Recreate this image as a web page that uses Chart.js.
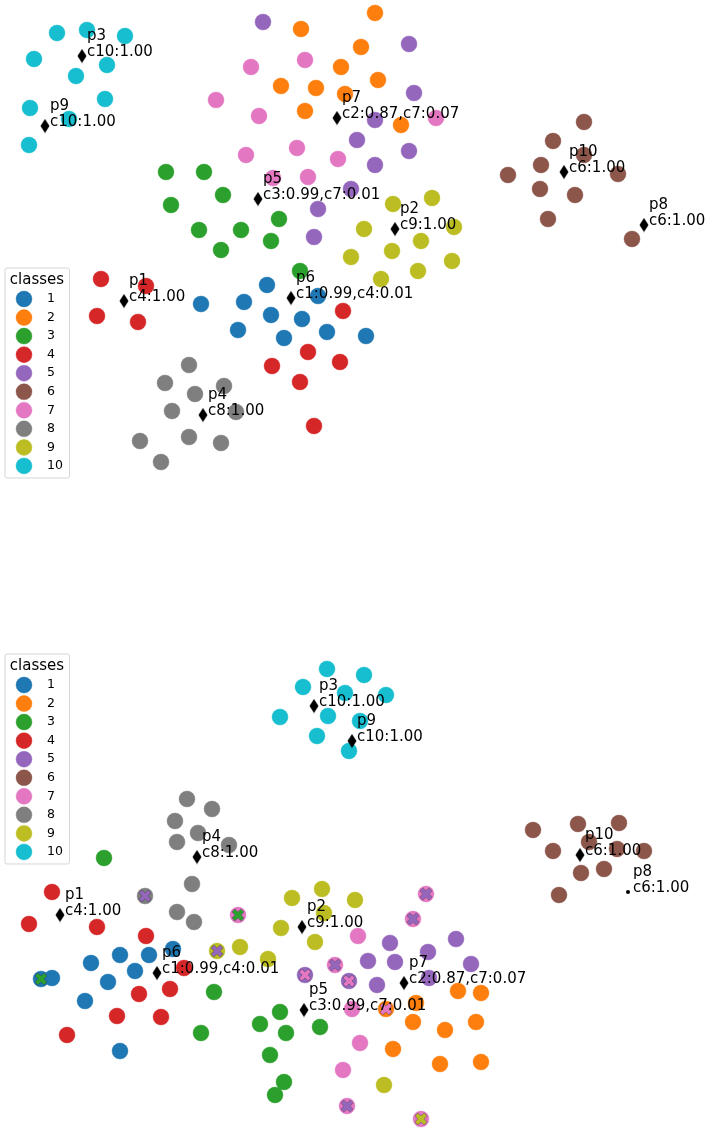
<!DOCTYPE html>
<html>
<head>
<meta charset="utf-8">
<title>classes</title>
<script src="https://cdn.jsdelivr.net/npm/chart.js@4"></script>
<style>
  html, body { margin: 0; padding: 0; background: #fff; }
  #wrap { width: 709px; height: 1131px; position: relative; overflow: hidden; }
  .panel { position: absolute; left: 0; width: 709px; }
  #topPanel { top: 0; height: 566px; }
  #bottomPanel { top: 566px; height: 565px; }
</style>
</head>
<body>
<div id="wrap">
  <div class="panel" id="topPanel"><canvas id="topChart" width="709" height="566"></canvas></div>
  <div class="panel" id="bottomPanel"><canvas id="bottomChart" width="709" height="565"></canvas></div>
</div>
<script>
const classNames = ['1', '2', '3', '4', '5', '6', '7', '8', '9', '10'];
const classColors = ['#1f77b4', '#ff7f0e', '#2ca02c', '#d62728', '#9467bd', '#8c564b', '#e377c2', '#7f7f7f', '#bcbd22', '#17becf'];
const protoNames = ['p1', 'p2', 'p3', 'p4', 'p5', 'p6', 'p7', 'p8', 'p9', 'p10'];

// top panel, one list per class
const top1 = [[201,304],[244,302],[267,285],[271,315],[238,330],[302,319],[318,296],[327,332],[366,336],[284,338]];
const top2 = [[301,29],[375,13],[361,47],[341,67],[378,80],[281,86],[316,88],[345,94],[305,111],[401,125]];
const top3 = [[166,172],[204,172],[223,195],[171,205],[199,230],[241,230],[279,219],[221,250],[271,241],[300,271]];
const top4 = [[101,279],[146,286],[97,316],[138,322],[343,311],[308,352],[272,366],[340,362],[300,382],[314,426]];
const top5 = [[263,22],[409,44],[414,93],[375,120],[357,140],[409,151],[375,165],[351,189],[318,209],[314,237]];
const top6 = [[584,122],[553,141],[584,155],[541,165],[508,175],[618,174],[540,189],[575,195],[548,219],[632,239]];
const top7 = [[305,60],[251,67],[216,100],[259,116],[246,155],[297,148],[338,159],[273,178],[308,177],[436,118]];
const top8 = [[189,365],[165,383],[195,394],[224,386],[172,411],[236,412],[140,441],[189,437],[221,443],[161,462]];
const top9 = [[393,204],[432,198],[364,229],[392,251],[421,241],[454,227],[351,257],[418,271],[452,261],[381,279]];
const top10 = [[87,30],[57,33],[125,36],[34,59],[107,65],[76,76],[105,99],[30,108],[69,119],[29,145]];
const topClasses = [top1, top2, top3, top4, top5, top6, top7, top8, top9, top10];

// prototypes of the top panel, in order p1..p10
const topProtoPoints = [[124,301],[395,229],[82,56],[203,415],[258,199],[291,298],[337,118],[644,225],[45,126],[564,172]];
const protoLabels = ['c4:1.00', 'c9:1.00', 'c10:1.00', 'c8:1.00', 'c3:0.99,c7:0.01', 'c1:0.99,c4:0.01', 'c2:0.87,c7:0.07', 'c6:1.00', 'c10:1.00', 'c6:1.00'];

// bottom panel
const bottom1 = [[52,978],[41,979],[91,963],[120,955],[149,955],[173,949],[135,971],[108,982],[85,1001],[120,1051]];
const bottom2 = [[416,1003],[413,1022],[445,1030],[393,1049],[440,1064],[458,991],[481,993],[476,1022],[481,1062],[386,1009]];
const bottom3 = [[104,858],[214,992],[201,1033],[320,1027],[280,1012],[260,1024],[286,1033],[270,1055],[284,1082],[275,1095]];
const bottom4 = [[52,892],[29,924],[97,927],[146,936],[184,968],[170,989],[139,994],[117,1016],[161,1017],[67,1035]];
const bottom5 = [[390,943],[368,961],[395,962],[428,952],[429,978],[377,985],[456,939],[471,964],[305,975],[349,981]];
const bottom6 = [[533,830],[578,824],[619,823],[553,851],[589,842],[644,851],[581,873],[604,869],[559,895],[617,849]];
const bottom7 = [[358,936],[360,1043],[343,1070],[352,1009],[426,894],[413,919],[335,965],[347,1106],[238,915],[421,1119]];
const bottom8 = [[192,884],[177,912],[194,922],[145,896],[187,799],[212,809],[175,821],[198,833],[177,842],[229,845]];
const bottom9 = [[292,898],[322,889],[355,900],[324,913],[281,928],[315,942],[240,947],[268,959],[384,1085],[217,951]];
const bottom10 = [[327,669],[364,675],[303,687],[345,693],[386,695],[280,717],[328,716],[360,721],[317,736],[349,751]];
const bottomClasses = [bottom1, bottom2, bottom3, bottom4, bottom5, bottom6, bottom7, bottom8, bottom9, bottom10];

// misassigned points: position and the class shown by the cross (index into classNames)
const crossPoints = [[41,979],[145,896],[238,915],[217,951],[305,975],[349,981],[335,965],[386,1009],[426,894],[413,919],[347,1106],[421,1119]];
const crossClasses = [2, 4, 2, 4, 6, 6, 4, 6, 4, 4, 4, 8];

const bottomProtoPoints = [[60,915],[302,927],[314,706],[197,857],[304,1010],[157,973],[404,983],[628,892],[352,741],[580,855]];
const smallProto = 7; // p8 is only a dot in the lower panel

const textFont = '15px "DejaVu Sans"';

function crossIcon(color) {
    const c = document.createElement('canvas');
    c.width = 14; c.height = 14;
    const g = c.getContext('2d');
    g.translate(7, 7);
    g.rotate(Math.PI / 4);
    g.beginPath();
    g.rect(-6.8, -2.4, 13.6, 4.8);
    g.rect(-2.4, -6.8, 4.8, 13.6);
    g.fillStyle = 'rgba(50,50,70,0.5)';
    g.fill();
    g.beginPath();
    g.rect(-6.2, -1.9, 12.4, 3.8);
    g.rect(-1.9, -6.2, 3.8, 12.4);
    g.fillStyle = color;
    g.fill();
    return c;
}

function diamondIcon() {
    const c = document.createElement('canvas');
    c.width = 10; c.height = 15;
    const g = c.getContext('2d');
    g.beginPath();
    g.moveTo(5, 0.5); g.lineTo(9.5, 7.5); g.lineTo(5, 14.5); g.lineTo(0.5, 7.5);
    g.closePath();
    g.fillStyle = '#000';
    g.fill();
    return c;
}

function toPoints(list) {
    return list.map(p => ({ x: p[0], y: p[1] }));
}

function classDatasets(lists) {
    return lists.map((list, i) => ({
        label: classNames[i],
        data: toPoints(list),
        backgroundColor: classColors[i],
        borderColor: classColors[i] + '66',
        borderWidth: 1,
        pointRadius: 8,
        order: 100 - i
    }));
}

const diamond = diamondIcon();

function protoDataset(points, hasSmall) {
    return {
        label: 'prototypes',
        data: toPoints(points),
        pointStyle: points.map((p, i) => (hasSmall && i === smallProto) ? 'circle' : diamond),
        pointRadius: points.map((p, i) => (hasSmall && i === smallProto) ? 2 : 7),
        backgroundColor: '#000',
        borderColor: '#000',
        borderWidth: 0,
        order: 1
    };
}

// labels next to the prototype markers
const protoText = {
    id: 'protoText',
    afterDatasetsDraw(chart, args, opts) {
        const { ctx, scales } = chart;
        ctx.save();
        ctx.font = textFont;
        ctx.fillStyle = '#000';
        ctx.textBaseline = 'middle';
        opts.points.forEach((p, i) => {
            const px = scales.x.getPixelForValue(p[0]) + 5;
            const py = scales.y.getPixelForValue(p[1]);
            ctx.fillText(protoNames[i], px, py - 20);
            ctx.fillText(protoLabels[i], px, py - 4);
        });
        ctx.restore();
    }
};

// matplotlib style legend box at the left
const classLegend = {
    id: 'classLegend',
    afterDraw(chart, args, opts) {
        const ctx = chart.ctx;
        const top = opts.top;
        ctx.save();
        ctx.globalAlpha = 0.8;
        ctx.fillStyle = '#fff';
        ctx.strokeStyle = '#cccccc';
        ctx.lineWidth = 1;
        ctx.beginPath();
        ctx.roundRect(5, top, 64.5, 210, 2);
        ctx.fill();
        ctx.stroke();
        ctx.globalAlpha = 1;
        ctx.fillStyle = '#000';
        ctx.textBaseline = 'middle';
        ctx.font = textFont;
        ctx.textAlign = 'center';
        ctx.fillText('classes', 37, top + 12.5);
        ctx.font = '12.5px "DejaVu Sans"';
        ctx.textAlign = 'left';
        classNames.forEach((name, i) => {
            const y = top + 31 + i * 18.55;
            ctx.beginPath();
            ctx.arc(24, y, 8, 0, Math.PI * 2);
            ctx.fillStyle = classColors[i];
            ctx.fill();
            ctx.lineWidth = 1;
            ctx.strokeStyle = classColors[i] + '66';
            ctx.stroke();
            ctx.fillStyle = '#000';
            ctx.fillText(name, 47, y);
        });
        ctx.restore();
    }
};

function baseOptions(yMin, yMax, points, legendTop) {
    return {
        responsive: false,
        animation: false,
        events: [],
        layout: { padding: 0, autoPadding: false },
        clip: false,
        scales: {
            x: { type: 'linear', display: false, min: 0, max: 709 },
            y: { type: 'linear', display: false, min: yMin, max: yMax, reverse: true }
        },
        plugins: {
            legend: { display: false },
            tooltip: { enabled: false },
            protoText: { points: points },
            classLegend: { top: legendTop }
        }
    };
}

new Chart(document.getElementById('topChart').getContext('2d'), {
    type: 'scatter',
    data: { datasets: [...classDatasets(topClasses), protoDataset(topProtoPoints, false)] },
    options: baseOptions(0, 566, topProtoPoints, 268),
    plugins: [protoText, classLegend]
});

const crossDatasets = crossPoints.map((p, i) => ({
    label: 'cross' + i,
    data: [{ x: p[0], y: p[1] }],
    pointStyle: crossIcon(classColors[crossClasses[i]]),
    pointRadius: 7,
    borderWidth: 0,
    order: 2
}));

new Chart(document.getElementById('bottomChart').getContext('2d'), {
    type: 'scatter',
    data: { datasets: [...classDatasets(bottomClasses), ...crossDatasets, protoDataset(bottomProtoPoints, true)] },
    options: baseOptions(566, 1131, bottomProtoPoints, 88),
    plugins: [protoText, classLegend]
});
</script>
</body>
</html>
